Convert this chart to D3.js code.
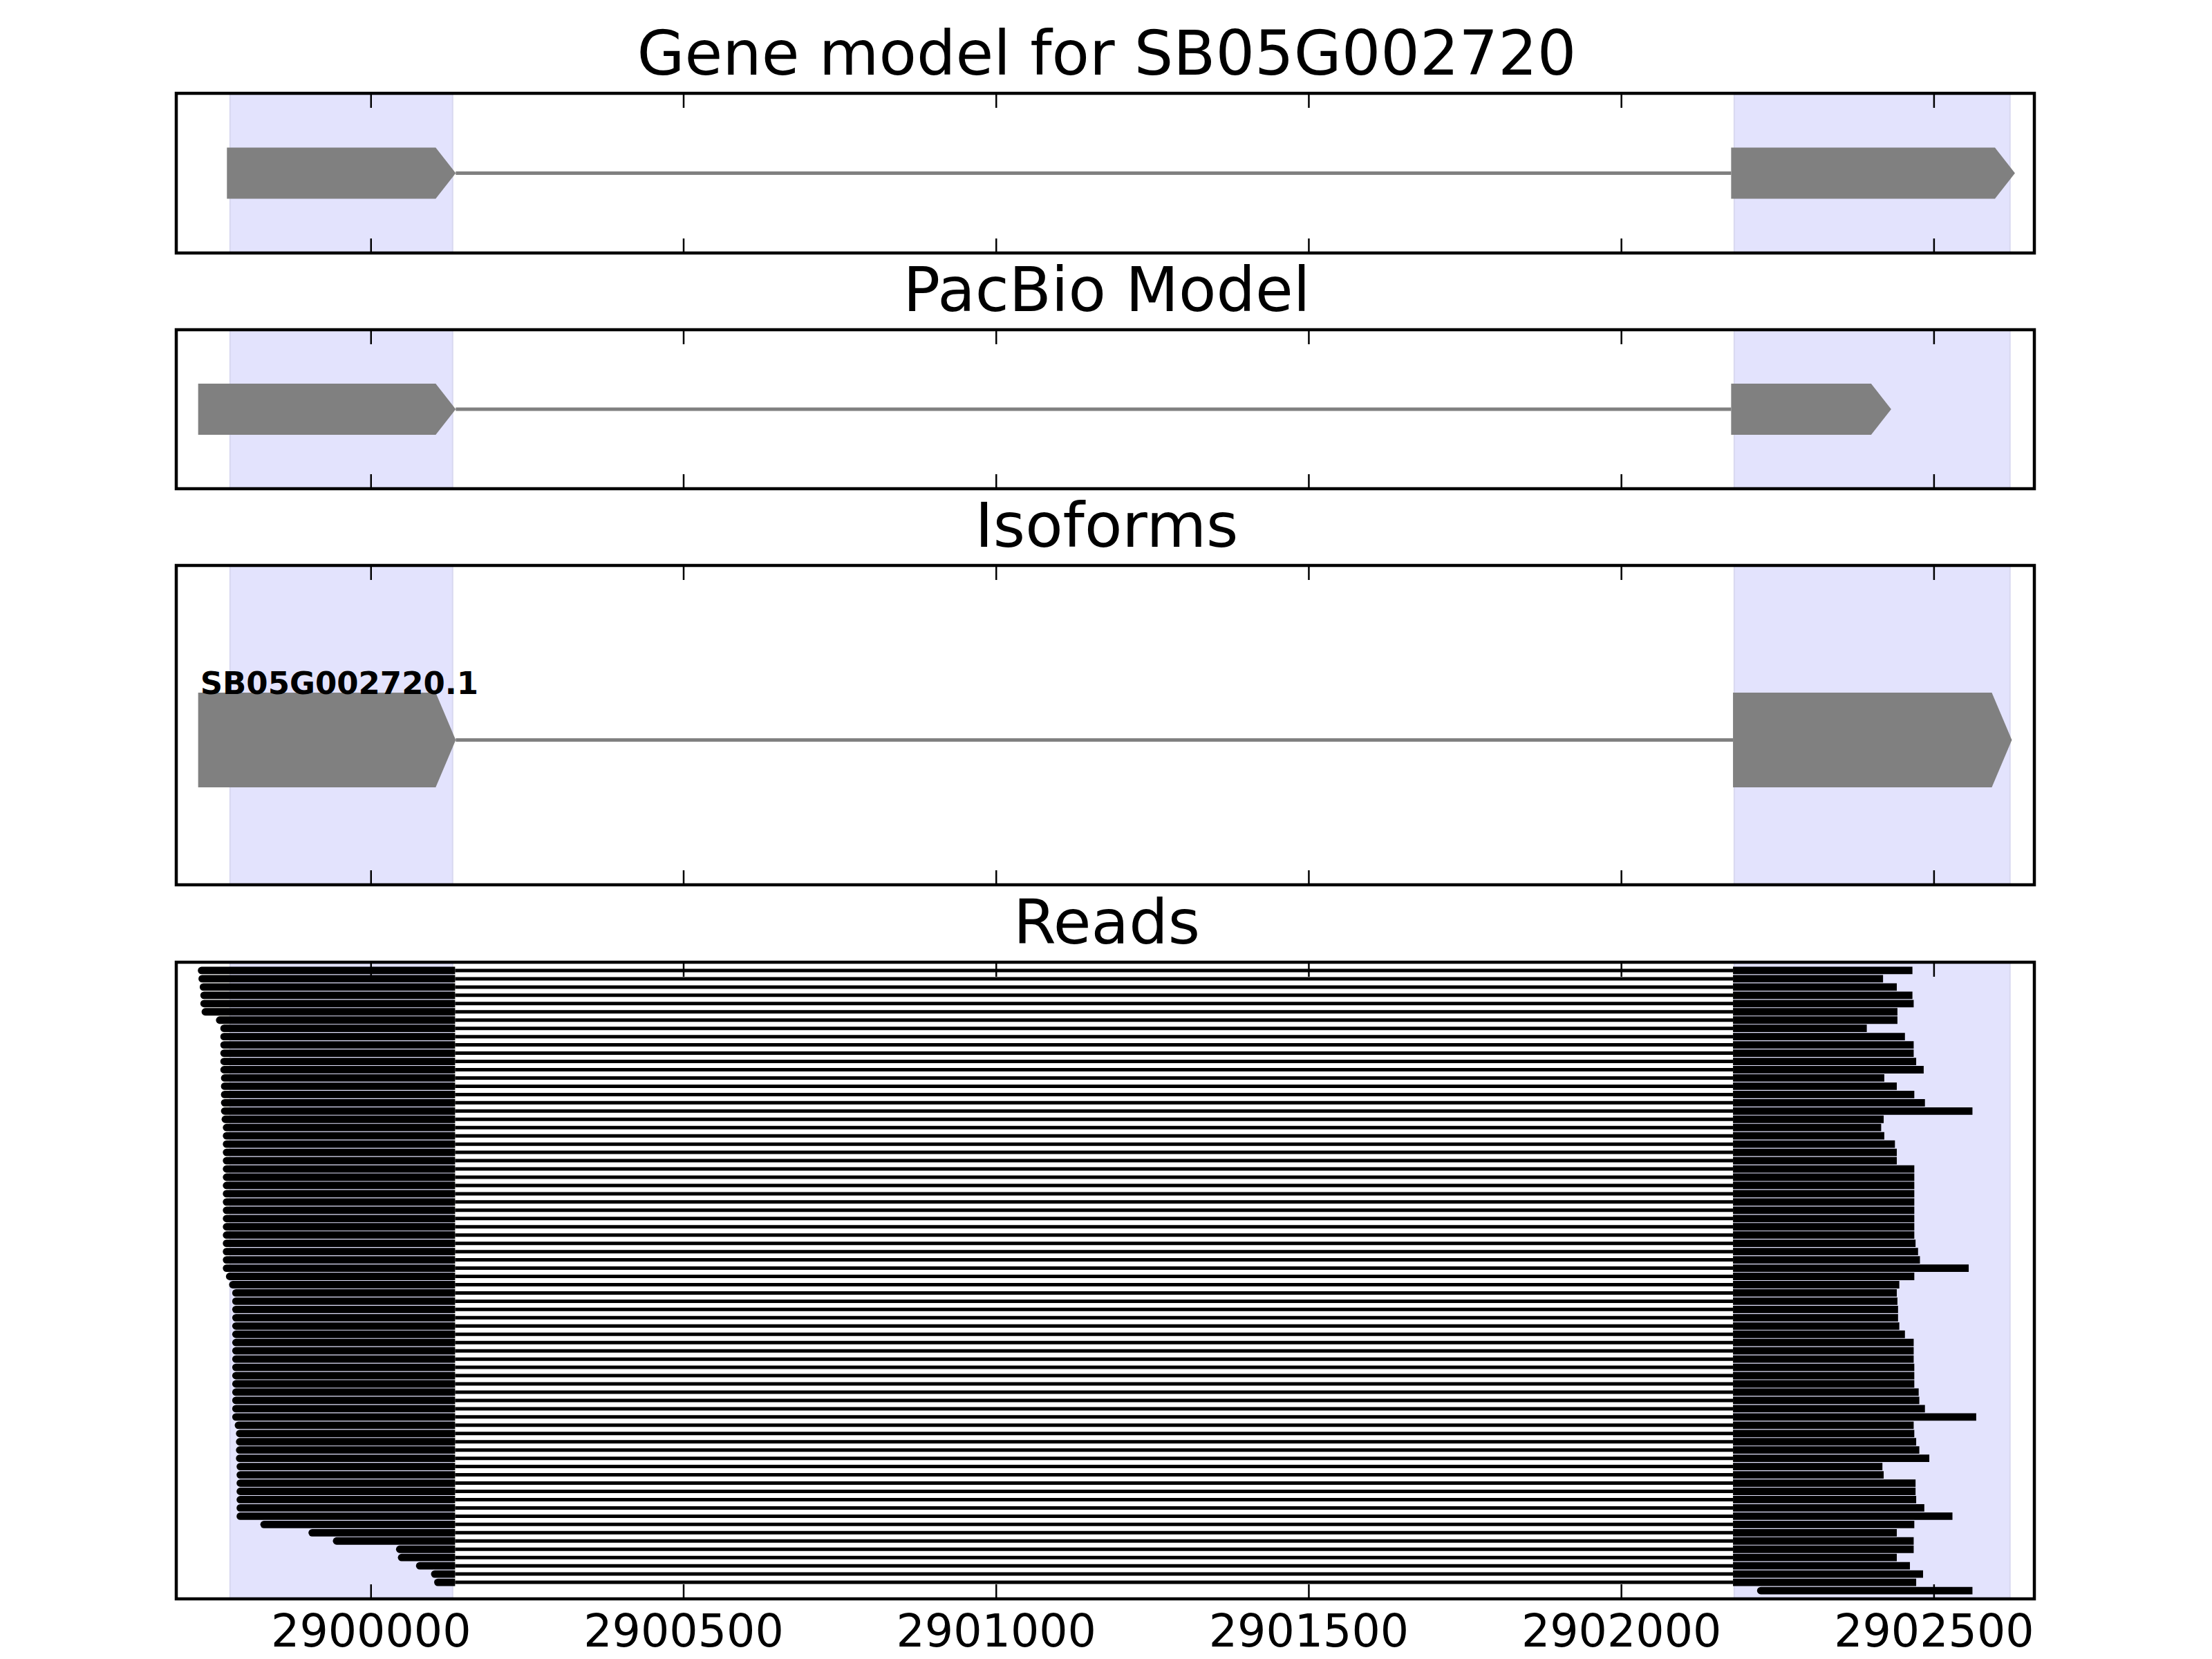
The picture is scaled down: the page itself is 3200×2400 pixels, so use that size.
<!DOCTYPE html>
<html lang="en">
<head>
<meta charset="UTF-8">
<title>Gene model for SB05G002720</title>
<script src="https://d3js.org/d3.v7.min.js"></script>
<style>
  body { margin: 0; background: #fff; }
  svg text { font-family: "DejaVu Sans", sans-serif; }
</style>
</head>
<body>
<div id="chart"></div>
<script>
// genomic axis
var xDomain = [2899689, 2902661];
var xTicks = [2900000, 2900500, 2901000, 2901500, 2902000, 2902500];

var panelTitles = ["Gene model for SB05G002720", "PacBio Model", "Isoforms", "Reads"];

// shaded exon regions
var spanStarts = [2899775, 2902181];
var spanEnds = [2900131, 2902622];

// models
var geneModelStarts = [2899770, 2902176];
var geneModelEnds = [2900136, 2902630];
var pacbioStarts = [2899724, 2902176];
var pacbioEnds = [2900136, 2902432];
var isoformName = "SB05G002720.1";
var isoformStarts = [2899724, 2902179];
var isoformEnds = [2900136, 2902625];

// reads: one splice junction, first and last base of every read
var junction = [2900135, 2902179];
var readStarts = [
  2899725, 2899726, 2899728, 2899729, 2899729, 2899731, 2899754, 2899761, 2899761, 2899761,
  2899761, 2899761, 2899761, 2899762, 2899762, 2899762, 2899762, 2899762, 2899763, 2899765,
  2899765, 2899765, 2899765, 2899765, 2899765, 2899765, 2899765, 2899765, 2899765, 2899765,
  2899765, 2899765, 2899765, 2899765, 2899765, 2899765, 2899765, 2899770, 2899775, 2899780,
  2899780, 2899780, 2899780, 2899780, 2899780, 2899780, 2899780, 2899780, 2899780, 2899780,
  2899780, 2899780, 2899780, 2899780, 2899780, 2899784, 2899786, 2899786, 2899786, 2899786,
  2899787, 2899787, 2899787, 2899787, 2899787, 2899787, 2899787, 2899825, 2899902, 2899941,
  2900042, 2900045, 2900074, 2900098, 2900103, 2902219
];
var readEnds = [
  2902466, 2902419, 2902441, 2902466, 2902468, 2902442, 2902442, 2902393, 2902454, 2902468,
  2902468, 2902472, 2902484, 2902421, 2902441, 2902469, 2902486, 2902562, 2902420, 2902416,
  2902421, 2902438, 2902441, 2902441, 2902469, 2902469, 2902469, 2902469, 2902469, 2902469,
  2902469, 2902469, 2902469, 2902471, 2902475, 2902478, 2902556, 2902469, 2902445, 2902441,
  2902442, 2902443, 2902443, 2902445, 2902454, 2902468, 2902468, 2902468, 2902469, 2902469,
  2902469, 2902476, 2902477, 2902486, 2902568, 2902468, 2902469, 2902472, 2902477, 2902493,
  2902418, 2902420, 2902471, 2902471, 2902472, 2902485, 2902530, 2902469, 2902441, 2902468,
  2902468, 2902441, 2902462, 2902483, 2902472, 2902562
];

var width = 3200, height = 2400;
var left = 255, right = 2943;
var panels = [
  { top: 135, bottom: 366 },
  { top: 477, bottom: 707 },
  { top: 818, bottom: 1280 },
  { top: 1392, bottom: 2313 }
];

var svg = d3.select("#chart")
  .append("svg")
  .attr("width", width)
  .attr("height", height)
  .style("background", "#fff");

var x = d3.scaleLinear().domain(xDomain).range([left, right]);

var headPx = 29;
function exonPath(s, e, yc, h) {
  var x0 = x(s), x1 = x(e);
  return "M" + x0 + "," + (yc - h / 2) +
    "L" + (x1 - headPx) + "," + (yc - h / 2) +
    "L" + x1 + "," + yc +
    "L" + (x1 - headPx) + "," + (yc + h / 2) +
    "L" + x0 + "," + (yc + h / 2) + "Z";
}

function blockPath(s, e, yc, h, roundLeft) {
  var x0 = x(s), x1 = x(e), r = roundLeft ? 4 : 0;
  return "M" + (x0 + r) + "," + (yc - h / 2) +
    "L" + x1 + "," + (yc - h / 2) +
    "L" + x1 + "," + (yc + h / 2) +
    "L" + (x0 + r) + "," + (yc + h / 2) +
    (r ? "A" + r + "," + r + " 0 0 1 " + (x0 + r) + "," + (yc - h / 2) : "") + "Z";
}

// background spans, titles
panels.forEach(function (p, i) {
  var g = svg.append("g").attr("class", "panel" + i);
  g.selectAll("rect.span")
    .data(spanStarts.map(function (s, k) { return [s, spanEnds[k]]; }))
    .enter()
    .append("rect")
    .attr("class", "span")
    .attr("x", function (d) { return x(d[0]); })
    .attr("width", function (d) { return x(d[1]) - x(d[0]); })
    .attr("y", p.top)
    .attr("height", p.bottom - p.top)
    .attr("fill", "#e3e3fd")
    .attr("stroke", "#d8d8f0")
    .attr("stroke-width", 2);

  svg.append("text")
    .attr("x", (left + right) / 2 + 2)
    .attr("y", p.top - 27)
    .attr("text-anchor", "middle")
    .style("font-size", "89px")
    .text(panelTitles[i]);
  p.g = g;
});

// simple gene models
function drawModel(g, p, starts, ends, yc, h) {
  g.append("line")
    .attr("x1", x(ends[0])).attr("x2", x(starts[1]))
    .attr("y1", yc).attr("y2", yc)
    .attr("stroke", "#808080")
    .attr("stroke-width", 5);
  g.selectAll("path.exon")
    .data(starts.map(function (s, k) { return [s, ends[k]]; }))
    .enter()
    .append("path")
    .attr("class", "exon")
    .attr("d", function (d) { return exonPath(d[0], d[1], yc, h); })
    .attr("fill", "#808080");
}

drawModel(panels[0].g, panels[0], geneModelStarts, geneModelEnds, (panels[0].top + panels[0].bottom) / 2, 74);
drawModel(panels[1].g, panels[1], pacbioStarts, pacbioEnds, (panels[1].top + panels[1].bottom) / 2, 74);

var yIso = d3.scaleLinear().domain([0, 1]).range([panels[2].bottom, panels[2].top]);
drawModel(panels[2].g, panels[2], isoformStarts, isoformEnds, yIso(0.4535), 137);
panels[2].g.append("text")
  .attr("x", x(isoformStarts[0]) + 3)
  .attr("y", yIso(0.4535) - 137 / 2 + 2)
  .style("font-size", "45px")
  .style("font-weight", "bold")
  .text(isoformName);

// reads
var yRead = d3.scaleLinear().domain([-1, readStarts.length]).range([panels[3].top, panels[3].bottom]);
var reads = readStarts.map(function (s, i) { return { i: i, start: s, end: readEnds[i] }; });
var rg = panels[3].g;
var blockH = 10.8;

rg.selectAll("line.intron")
  .data(reads.filter(function (d) { return d.start < junction[0] && d.end > junction[1]; }))
  .enter()
  .append("line")
  .attr("class", "intron")
  .attr("x1", x(junction[0])).attr("x2", x(junction[1]))
  .attr("y1", function (d) { return yRead(d.i); })
  .attr("y2", function (d) { return yRead(d.i); })
  .attr("stroke", "#000")
  .attr("stroke-width", 5);

var blocks = [];
reads.forEach(function (d) {
  if (d.start < junction[0]) {
    blocks.push({ i: d.i, s: d.start, e: junction[0], round: true });
    blocks.push({ i: d.i, s: junction[1], e: d.end, round: false });
  } else {
    blocks.push({ i: d.i, s: d.start, e: d.end, round: true });
  }
});

rg.selectAll("path.block")
  .data(blocks)
  .enter()
  .append("path")
  .attr("class", "block")
  .attr("d", function (d) { return blockPath(d.s, d.e, yRead(d.i), blockH, d.round); })
  .attr("fill", "#000");

// frames and inward ticks
panels.forEach(function (p, i) {
  var bottomAxis = d3.axisBottom(x)
    .tickValues(xTicks)
    .tickSizeInner(-21)
    .tickSizeOuter(0)
    .tickPadding(23)
    .tickFormat(i === panels.length - 1 ? d3.format("d") : function () { return ""; });
  var ab = svg.append("g")
    .attr("transform", "translate(0," + p.bottom + ")")
    .call(bottomAxis);
  var topAxis = d3.axisTop(x)
    .tickValues(xTicks)
    .tickSizeInner(-21)
    .tickSizeOuter(0)
    .tickFormat(function () { return ""; });
  var at = svg.append("g")
    .attr("transform", "translate(0," + p.top + ")")
    .call(topAxis);
  [ab, at].forEach(function (a) {
    a.select(".domain").remove();
    a.selectAll(".tick line").attr("stroke", "#000").attr("stroke-width", 2.5);
    a.selectAll(".tick text")
      .attr("fill", "#000")
      .style("font-size", "65px")
      .style("font-family", "'DejaVu Sans', sans-serif");
  });

  svg.append("rect")
    .attr("x", left)
    .attr("y", p.top)
    .attr("width", right - left)
    .attr("height", p.bottom - p.top)
    .attr("fill", "none")
    .attr("stroke", "#000")
    .attr("stroke-width", 4.5);
});
</script>
</body>
</html>
